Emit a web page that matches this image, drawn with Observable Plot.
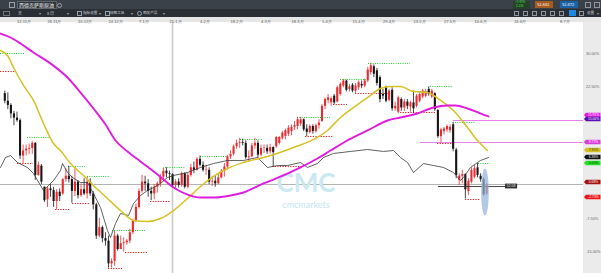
<!DOCTYPE html>
<html><head><meta charset="utf-8">
<script src="https://cdn.jsdelivr.net/npm/d3@7"></script>
<script src="https://cdn.jsdelivr.net/npm/@observablehq/plot@0.6"></script>
<style>
html,body{margin:0;padding:0;background:#fff;}
body{width:601px;height:273px;overflow:hidden;position:relative;font-family:"Noto Sans CJK SC","Noto Sans",sans-serif;}
.a{position:absolute;}
.t{position:absolute;white-space:nowrap;line-height:1;}
#bar1{left:0;top:0;width:601px;height:9px;background:#3b4149;}
#bar2{left:0;top:9px;width:601px;height:8px;background:#2a2f36;}
#chart{position:absolute;left:0;top:17px;}
</style></head><body>
<div id="bar1" class="a">
  <div class="a" style="left:9px;top:2px;width:4px;height:4px;border:1px solid #9aa1a9"></div>
  <div class="a" style="left:17px;top:1px;width:38px;height:6px;border:1px solid #5d646c;background:#30353c"></div>
  <div class="t" style="left:19px;top:1.5px;font-size:5px;color:#f2f2f2">西德克萨斯原油</div>
  <div class="a" style="left:57px;top:2.5px;width:3px;height:3px;border:1px solid #9aa1a9;border-radius:50%"></div>
  <div class="a" style="left:513px;top:0.5px;width:17px;height:8px;background:#27402c"></div>
  <div class="t" style="left:515px;top:1px;font-size:3px;color:#3ddc3d">+0.48%</div>
  <div class="t" style="left:516px;top:4.6px;font-size:3px;color:#3ddc3d">0.250</div>
  <div class="a" style="left:535px;top:1px;width:18px;height:7px;background:#a65a1e"></div>
  <div class="t" style="left:537px;top:2.3px;font-size:4px;color:#fff">52.442</div>
  <div class="a" style="left:560px;top:1px;width:18px;height:7px;background:#1a62a8"></div>
  <div class="t" style="left:562px;top:2.3px;font-size:4px;color:#fff">52.472</div>
  <div class="a" style="left:585px;top:2px;width:4px;height:4px;border:1px solid #8f969e"></div>
  <div class="a" style="left:594px;top:2px;width:4px;height:4px;border:1px solid #8f969e"></div>
</div>
<div id="bar2" class="a">
  <div class="a" style="left:3px;top:2px;width:5px;height:3px;border:1px solid #6c737b"></div>
  <div class="t" style="left:18px;top:1.8px;font-size:4px;color:#cfd3d8">天</div>
  <div class="t" style="left:39px;top:1.8px;font-size:4px;color:#9aa1a9">▾</div>
  <div class="t" style="left:47px;top:1.8px;font-size:4px;color:#cfd3d8">8 日</div>
  <div class="t" style="left:67px;top:1.8px;font-size:4px;color:#9aa1a9">▾</div>
  <div class="a" style="left:77px;top:2px;width:3px;height:3px;border:1px solid #9aa1a9"></div>
  <div class="t" style="left:83px;top:1.8px;font-size:3.6px;color:#cfd3d8">指标设置</div>
  <div class="t" style="left:99px;top:1.8px;font-size:4px;color:#9aa1a9">▾</div>
  <div class="a" style="left:105px;top:2px;width:3px;height:3px;border:1px solid #9aa1a9"></div>
  <div class="t" style="left:110px;top:1.8px;font-size:3.6px;color:#cfd3d8">绘图工具</div>
  <div class="t" style="left:131px;top:1.8px;font-size:4px;color:#9aa1a9">▾</div>
  <div class="a" style="left:137px;top:2px;width:3px;height:3px;border:1px solid #9aa1a9;border-radius:50%"></div>
  <div class="t" style="left:143px;top:1.8px;font-size:3.6px;color:#cfd3d8">相关产品</div>
  <div class="t" style="left:163px;top:1.8px;font-size:4px;color:#9aa1a9">▾</div>
  <div class="a" style="left:514px;top:2px;width:3px;height:3px;border:1px solid #8f969e"></div>
  <div class="a" style="left:523px;top:2px;width:3px;height:3px;border:1px solid #8f969e"></div>
  <div class="a" style="left:532px;top:2px;width:3px;height:3px;border:1px solid #8f969e"></div>
  <div class="a" style="left:541px;top:2px;width:3px;height:3px;border:1px solid #8f969e"></div>
  <div class="a" style="left:550px;top:2px;width:3px;height:3px;border:1px solid #8f969e"></div>
  <div class="a" style="left:559px;top:2px;width:3px;height:3px;border:1px solid #8f969e"></div>
  <div class="a" style="left:569px;top:1px;width:7px;height:6px;background:#1e88e5"></div>
  <div class="a" style="left:579px;top:2px;width:3px;height:3px;border:1px solid #8f969e"></div>
  <div class="t" style="left:587px;top:1.8px;font-size:3.6px;color:#cfd3d8">设置</div>
  <div class="t" style="left:597px;top:1.8px;font-size:4px;color:#9aa1a9">▾</div>
</div>
<div id="chart"></div>
<script>
// ---- data (USD; percent axis relative to BASE) ----
const BASE = 52.2;
const open = [63.1,62.2,61.7,60.7,60.2,59.9,55.7,56.3,56.5,56.6,
57.2,53.4,54.5,52.0,50.5,51.8,51.6,50.3,51.4,51.2,
52.9,53.3,52.9,51.5,52.6,51.0,51.7,51.2,52.6,51.2,
49.9,46.2,47.2,45.9,45.6,42.9,43.2,46.2,44.6,45.3,
45.4,45.6,46.6,48.0,49.6,51.5,52.6,52.4,51.5,51.2,
52.0,52.4,53.2,53.9,53.6,53.5,52.2,52.6,52.2,53.6,
52.0,53.4,54.3,54.0,55.3,54.6,54.0,54.0,52.6,52.7,
52.4,53.1,53.9,54.4,55.6,55.9,56.8,57.2,57.3,57.2,
55.5,55.6,56.9,57.2,55.8,56.6,56.6,56.2,56.7,56.8,
57.2,57.8,58.0,58.3,58.6,59.1,59.2,59.5,60.0,58.9,
58.5,59.2,58.6,59.3,59.8,61.6,62.3,62.0,62.8,62.1,
63.0,64.0,64.6,63.6,64.1,63.4,63.8,64.2,64.0,64.6,
65.6,66.3,65.8,65.0,63.0,63.8,62.3,63.5,61.3,60.9,
62.4,61.4,62.1,61.5,62.0,61.6,62.2,62.7,62.8,63.6,
62.7,63.1,61.1,58.0,58.6,58.8,58.7,59.4,56.4,52.8,
53.3,53.5,51.5,52.6,53.2,54.3,53.3,52.9,51.2];
const high = [63.4,63.2,61.9,61.0,60.9,60.1,57.0,57.0,57.1,57.4,
57.3,55.0,54.7,52.0,52.0,52.3,52.0,51.7,51.8,53.0,
54.2,54.5,53.3,54.2,52.8,52.4,53.0,53.2,53.0,51.5,
50.1,48.3,47.4,46.6,46.2,43.5,46.8,46.4,46.2,46.0,
45.8,47.0,48.2,50.0,51.8,53.4,53.3,52.9,52.0,52.3,
52.6,53.5,54.3,54.3,53.9,53.6,52.9,53.0,53.8,53.7,
53.7,54.7,55.0,55.5,55.7,55.0,54.6,54.3,53.3,53.4,
53.6,54.1,54.8,55.8,56.3,57.0,57.6,57.8,57.7,57.5,
56.3,57.2,57.8,57.5,57.0,57.0,57.0,57.1,56.8,58.0,
58.0,58.6,58.9,59.3,59.4,59.8,60.3,60.3,60.1,59.4,
59.4,59.4,59.5,60.0,61.8,62.6,63.0,62.7,63.0,64.0,
64.4,64.8,64.7,64.2,64.3,64.3,64.6,64.6,64.8,66.2,
66.7,66.5,66.1,65.2,63.6,64.0,63.6,63.8,62.1,62.8,
62.6,62.4,62.4,62.2,63.4,63.0,63.2,63.6,63.6,63.9,
63.6,63.2,61.2,59.0,59.1,59.4,59.4,59.7,56.6,53.6,
54.0,53.6,53.0,54.3,54.6,54.8,53.6,53.1,52.5];
const low = [61.9,61.2,60.1,59.3,59.7,55.3,54.8,55.7,55.9,55.9,
52.8,53.3,52.3,50.2,49.6,50.8,49.6,49.3,50.3,51.0,
52.6,52.5,50.1,50.9,50.6,50.8,51.0,50.6,50.9,49.3,
45.8,46.0,45.4,45.0,42.4,42.4,42.6,44.4,44.6,44.3,
45.1,45.3,46.4,47.8,49.4,51.3,51.5,50.8,50.4,50.5,
51.3,52.0,52.7,53.1,52.8,51.9,51.8,51.9,52.0,51.8,
51.8,53.2,53.6,53.9,54.4,53.8,53.4,52.3,52.1,52.0,
52.3,53.0,53.2,54.0,55.3,55.7,56.5,56.6,56.9,55.3,
55.0,55.5,56.5,55.4,55.6,56.0,55.9,55.9,54.4,56.6,
57.0,57.6,57.6,58.0,58.1,58.7,58.8,59.2,58.6,58.0,
58.3,58.3,58.4,58.9,59.7,61.2,61.9,61.6,61.8,62.0,
62.8,63.8,63.3,63.3,63.2,63.1,63.5,63.7,63.8,64.4,
65.3,65.0,64.0,62.0,62.4,62.0,62.1,61.0,61.0,60.7,
61.0,61.0,61.2,60.9,60.8,61.4,62.0,62.5,62.6,62.8,
62.5,61.0,57.8,57.3,58.2,58.5,58.4,56.2,53.0,52.2,
52.4,50.6,51.0,52.4,53.0,53.1,52.6,50.9,51.0];
const close = [62.2,61.7,60.7,60.2,59.9,55.7,56.3,56.5,56.6,57.2,
53.4,54.6,52.6,50.4,51.8,51.6,50.3,51.4,50.9,52.9,
53.3,52.9,51.5,52.6,51.0,51.7,51.2,52.6,51.2,49.9,
46.2,47.2,45.9,45.6,42.9,43.2,46.2,44.6,45.3,45.4,
45.6,46.6,48.0,49.6,51.5,52.6,52.4,51.5,51.2,52.0,
52.4,53.2,53.9,53.6,53.5,52.2,52.6,52.2,53.6,52.0,
53.4,54.3,54.0,55.3,54.6,54.0,54.05,52.6,52.7,52.4,
53.1,53.9,54.4,55.6,55.9,56.8,57.2,57.3,57.2,55.5,
55.6,56.9,57.2,55.8,56.6,56.65,56.2,56.7,56.1,57.9,
57.9,58.4,58.7,59.0,59.1,59.3,60.0,60.0,58.8,58.5,
59.2,58.6,59.3,59.6,61.6,62.4,62.6,62.5,62.0,63.8,
64.2,64.6,63.5,63.9,63.4,64.0,64.4,64.0,64.6,65.9,
66.4,65.4,64.3,62.4,62.8,62.2,63.4,61.3,61.6,62.6,
61.4,62.1,61.6,62.0,61.3,62.8,63.0,63.4,63.3,63.0,
63.4,61.2,58.0,58.8,58.9,59.2,59.1,56.5,53.4,53.3,
53.5,51.7,52.7,54.0,54.2,53.4,52.9,51.1,52.3];

// moving averages: [candle index, value]
const magentaMA = [[-1.41,70.23],[1.87,69.76],[5.15,69.05],[9.41,67.98],[14.98,66.68],[20.56,65.01],[24.82,63.23],[29.08,61.34],[33.02,59.44],[36.3,57.54],[40.23,56.23],[44.49,55.05],[50.07,53.51],[55.31,51.96],[59.9,51.13],[64.16,50.78],[69.08,50.78],[74.0,51.01],[78.26,51.37],[84.82,52.44],[91.38,53.39],[96.95,54.34],[102.52,55.40],[106.79,56.35],[111.7,57.42],[118.92,58.73],[125.48,59.91],[129.74,60.27],[135.31,60.74],[140.56,61.45],[145.15,61.69],[147.77,61.69],[151.7,61.34],[155.31,60.86],[158.59,60.39]];
const yellowMA = [[-1.41,68.22],[0.89,67.62],[2.85,66.20],[6.13,64.07],[9.41,62.29],[12.69,59.56],[15.97,57.18],[18.26,56.35],[21.54,54.81],[25.8,53.39],[29.08,52.20],[33.67,50.66],[37.93,49.23],[40.56,48.40],[42.2,48.05],[46.79,47.93],[51.05,48.28],[55.31,49.23],[59.9,50.66],[64.16,52.08],[68.43,53.27],[73.02,54.22],[78.26,54.93],[86.13,55.64],[94.66,56.71],[102.52,57.90],[105.8,58.73],[110.07,60.27],[114.33,61.45],[118.92,62.64],[123.18,63.71],[126.46,63.95],[129.74,63.95],[134.0,63.35],[138.59,63.23],[140.56,62.88],[143.84,62.05],[147.11,61.10],[151.7,59.08],[154.98,57.54],[158.26,56.35]];
const blackLine = [[-1.41,54.34],[0.23,55.52],[1.87,55.76],[4.16,54.93],[7.44,54.34],[9.41,53.62],[12.69,51.61],[15.97,52.79],[18.26,53.98],[18.92,54.81],[20.56,53.74],[22.2,53.15],[24.82,52.56],[27.11,52.56],[29.08,51.25],[31.38,49.59],[33.67,46.86],[34.66,46.03],[36.3,47.69],[37.93,48.88],[40.56,48.64],[42.2,50.06],[44.49,51.01],[46.79,51.61],[48.75,51.96],[51.05,52.44],[53.34,53.15],[55.31,53.39],[59.9,53.74],[64.16,54.34],[68.43,54.81],[73.02,55.17],[78.26,55.17],[82.85,55.52],[86.13,54.34],[89.41,54.57],[92.69,54.57],[96.95,54.93],[99.25,54.34],[102.52,54.81],[104.49,55.52],[107.77,56.0],[113.34,56.24],[118.92,56.47],[124.16,56.24],[127.44,56.35],[129.74,55.52],[132.03,54.93],[134.0,53.74],[137.28,54.81],[140.56,54.57],[143.84,54.34],[147.11,53.74],[149.41,52.79],[150.39,53.15],[152.69,54.34],[155.97,55.17],[158.59,55.52]];

// swing high (green dotted) and swing low (red dashed) levels: [value, from index, to index]
const swingHighs = [[67.86,-1.41,6.79],[57.90,7.44,14.98],[54.45,20.9,26.46],[53.27,27.11,34.66],[46.86,35.31,46.13],[54.34,52.69,59.25],[55.64,64.16,73.02],[57.66,77.28,84.49],[60.27,95.97,106.79],[64.78,110.07,118.59],[66.68,119.25,133.02],[63.35,134.0,140.23],[63.95,139.57,146.79],[59.68,147.77,154.33],[54.81,155.31,159.25]];
const swingLows = [[65.73,-1.41,3.51],[54.81,4.16,9.41],[49.35,16.62,21.54],[50.06,22.2,28.1],[42.35,34.0,38.59],[44.25,39.57,46.79],[50.30,47.77,54.33],[54.45,87.77,96.95],[58.01,98.59,107.77],[61.81,107.77,112.36],[63.12,114.98,127.11],[60.86,129.74,141.21],[57.18,141.87,146.79],[50.54,151.05,156.0]];

const pinkLevels = [[59.91,147.1],[57.30,136.3]];
const currentLevel = [52.32];
const cursorIndex = [55.0];
const shortLine = [[52.08,142.2,164.2]];
const shortLineLabel = ["52.08"];
const markerEllipse = [[157.6,51.37]];

// visible right-axis labels (the others sit behind the value tags)
const yTickPct = [30,22.5,-7.5,-15];
const yTickLabels = ["30.00%","22.50%","-7.50%","-15.00%"];
const dateTicks = [4,14,24,34,44,54,64,74,84,94,104,114,124,134,144,154,167,182];
const dateLabels = ["12-11月","26-11月","10-12月","24-12月","7-1月","21-1月","4-2月","18-2月","4-3月","18-3月","1-4月","15-4月","29-4月","13-5月","27-5月","10-6月","24-6月","8-7月"];

const tagValues = [60.51,60.03,57.30,56.35,55.52,54.81,52.56,50.78];
const tagLabels = ["15.91%","15.00%","9.77%","7.95%","6.36%","5.00%","0.68%","-2.73%"];
const tagFill = ["#e21be2","#5b0fb3","#d93cd9","#d6c21c","#111111","#25e025","#a50f0f","#f01414"];
const tagInk = ["#fff","#fff","#fff","#333","#fff","#0a3a0a","#fff","#fff"];

// ---- build ----
const candles = open.map((o, i) => ({i, o, h: high[i], l: low[i], c: close[i], up: close[i] >= o}));
const UP = "#ee2a2e", DOWN = "#161616";
const xDomain = [-1.41, 189.74];

const chart = Plot.plot({
  width: 601, height: 256,
  marginTop: 5, marginBottom: 0, marginLeft: 0, marginRight: 18,
  x: {domain: xDomain, axis: null},
  y: {domain: [41.76, 71.54], axis: null},
  style: "background: linear-gradient(#e6e6e6,#e6e6e6) 0 0/601px 5px no-repeat, linear-gradient(#ebebeb,#ebebeb) 583px 0/18px 256px no-repeat, #fff; font-family: 'Liberation Sans', 'DejaVu Sans', sans-serif;",
  marks: [
    Plot.ruleX(cursorIndex, {stroke: "#cacaca", strokeWidth: 1.6}),
    Plot.ruleY(currentLevel, {stroke: "#b4b4b4", strokeWidth: 1.2}),
    Plot.ruleY(pinkLevels, {y: d => d[0], x1: d => d[1], x2: xDomain[1], stroke: "#e67fe6", strokeWidth: 1}),
    Plot.text(["CMC"], {frameAnchor: "middle", dx: 14, dy: 36, fontSize: 26, fontWeight: 700, fill: "#cbe9f1", fontFamily: "Lato, sans-serif"}),
    Plot.text(["cmcmarkets"], {frameAnchor: "middle", dx: 14, dy: 57, fontSize: 9, fill: "#c3e5ee", fontFamily: "Lato, sans-serif"}),
    Plot.ruleY(swingHighs, {y: d => d[0], x1: d => d[1], x2: d => d[2], stroke: "#1fcf2a", strokeWidth: 1, strokeDasharray: "1,1.3"}),
    Plot.ruleY(swingLows, {y: d => d[0], x1: d => d[1], x2: d => d[2], stroke: "#f02020", strokeWidth: 1, strokeDasharray: "1.3,1.3"}),
    Plot.ruleX(candles, {x: "i", y1: "l", y2: "h", stroke: d => d.up ? UP : DOWN, strokeWidth: 0.8}),
    Plot.ruleX(candles, {x: "i", y1: "o", y2: "c", stroke: d => d.up ? UP : DOWN, strokeWidth: 2.1}),
    Plot.line(blackLine, {x: d => d[0], y: d => d[1], stroke: "#3a3a3a", strokeWidth: 0.8}),
    Plot.line(yellowMA, {x: d => d[0], y: d => d[1], stroke: "#d8c023", strokeWidth: 1.5, curve: "monotone-x"}),
    Plot.line(magentaMA, {x: d => d[0], y: d => d[1], stroke: "#e01ce0", strokeWidth: 1.9, curve: "monotone-x"}),
    Plot.ruleY(shortLine, {y: d => d[0], x1: d => d[1], x2: d => d[2], stroke: "#333", strokeWidth: 0.9}),
    (index, {x, y}) => {
      const g = d3.create("svg:g");
      shortLine.forEach((d, k) => {
        const x0 = x(d[2]), cy = y(d[0]);
        g.append("rect").attr("x", x0).attr("y", cy - 2.4).attr("width", 12).attr("height", 4.8).attr("fill", "#2e2e2e");
        g.append("text").attr("x", x0 + 6).attr("y", cy).attr("dy", "0.35em").attr("text-anchor", "middle")
          .attr("font-size", 3.4).attr("fill", "#eee").text(shortLineLabel[k]);
      });
      markerEllipse.forEach(d => {
        g.append("ellipse").attr("cx", x(d[0])).attr("cy", y(d[1])).attr("rx", 3.8).attr("ry", 23.5)
          .attr("fill", "#94b4dc").attr("fill-opacity", 0.72);
      });
      return g.node();
    },
    Plot.text(yTickPct, {y: p => BASE * (1 + p / 100), text: (p, i) => yTickLabels[i], frameAnchor: "right", dx: 2.5, textAnchor: "start", fontSize: 3.9, fill: "#666"}),
    (index, {y}, values, dims) => {
      const g = d3.create("svg:g");
      const x0 = dims.width - dims.marginRight + 1;
      tagValues.forEach((v, k) => {
        const cy = y(v);
        g.append("path").attr("d", `M${x0},${cy} L${x0 + 2},${cy - 2.3} H${x0 + 16.5} V${cy + 2.3} H${x0 + 2} Z`).attr("fill", tagFill[k]);
        g.append("text").attr("x", x0 + 9.5).attr("y", cy).attr("dy", "0.35em").attr("text-anchor", "middle")
          .attr("font-size", 3.3).attr("fill", tagInk[k]).text(tagLabels[k]);
      });
      return g.node();
    },
    Plot.text(dateTicks, {x: d => d, text: (d, i) => dateLabels[i], frameAnchor: "top", dy: -2.5, textAnchor: "start", fontSize: 4, fill: "#555"})
  ]
});
document.getElementById("chart").appendChild(chart);
</script>
</body></html>
